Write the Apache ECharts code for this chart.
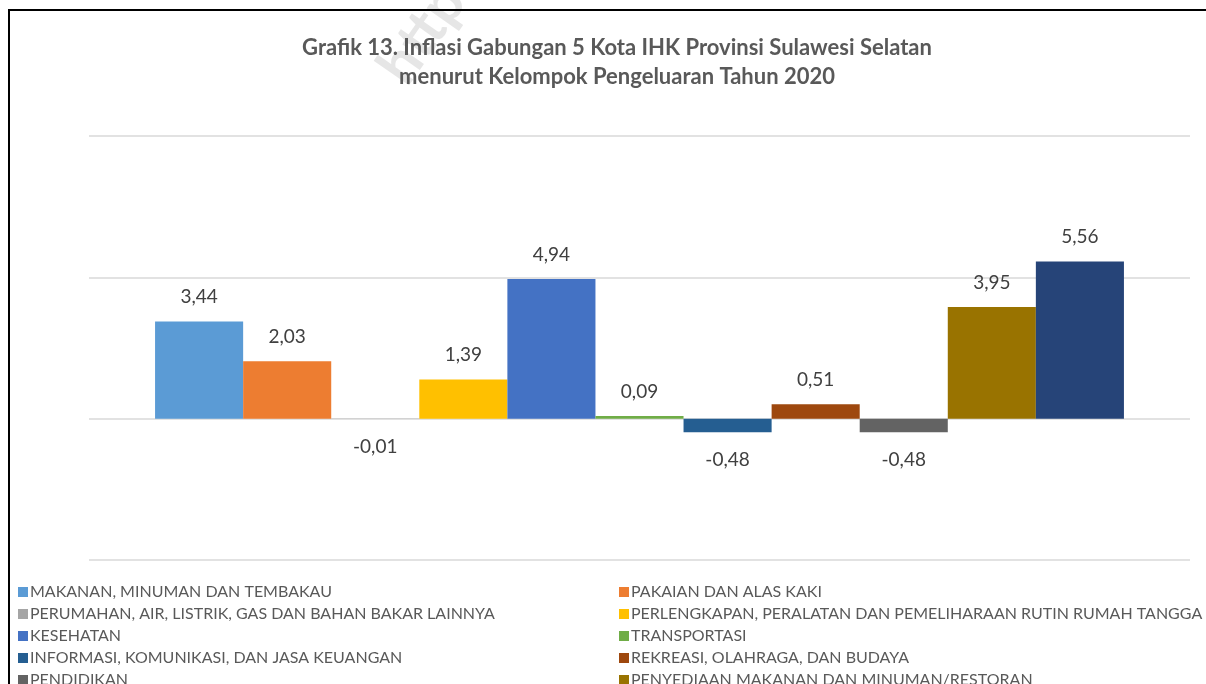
<!DOCTYPE html>
<html><head><meta charset="utf-8">
<script src="https://cdn.jsdelivr.net/npm/echarts@6/dist/echarts.min.js"></script>
<style>html,body{margin:0;padding:0;background:#fff}#c{width:1206px;height:684px}</style>
</head><body><div id="c"></div>
<script>
const titleLines = ['Grafik 13. Inflasi Gabungan 5 Kota IHK Provinsi Sulawesi Selatan', 'menurut Kelompok Pengeluaran Tahun 2020'];
const seriesNames = [
  'MAKANAN, MINUMAN DAN TEMBAKAU',
  'PAKAIAN DAN ALAS KAKI',
  'PERUMAHAN, AIR, LISTRIK, GAS DAN BAHAN BAKAR LAINNYA',
  'PERLENGKAPAN, PERALATAN DAN PEMELIHARAAN RUTIN RUMAH TANGGA',
  'KESEHATAN',
  'TRANSPORTASI',
  'INFORMASI, KOMUNIKASI, DAN JASA KEUANGAN',
  'REKREASI, OLAHRAGA, DAN BUDAYA',
  'PENDIDIKAN',
  'PENYEDIAAN MAKANAN DAN MINUMAN/RESTORAN',
  'PERAWATAN PRIBADI DAN JASA LAINNYA'
];
const values = [3.44, 2.03, -0.01, 1.39, 4.94, 0.09, -0.48, 0.51, -0.48, 3.95, 5.56];
const colors = ['#5B9BD5','#ED7D31','#A5A5A5','#FFC000','#4472C4','#70AD47','#255E91','#9E480E','#636363','#997300','#264478'];
const categories = [''];

const font = 'Lato, "Open Sans", sans-serif';
const series = seriesNames.map((n, i) => ({
  name: n,
  type: 'bar',
  data: [values[i]],
  barGap: '0%',
  barCategoryGap: '12%',
  itemStyle: { color: colors[i] },
  label: {
    show: true,
    position: values[i] < 0 ? 'bottom' : 'top',
    distance: values[i] < 0 ? 18 : 15,
    color: '#404040',
    fontSize: 19,
    fontFamily: font,
    formatter: p => p.value.toFixed(2).replace('.', ',')
  }
}));

const leftNames = seriesNames.filter((_, i) => i % 2 === 0);
const rightNames = seriesNames.filter((_, i) => i % 2 === 1);
const legendCommon = {
  orient: 'vertical',
  top: 581,
  height: 400,
  itemWidth: 10,
  itemHeight: 10,
  itemGap: 0,
  icon: 'rect',
  textStyle: { color: '#595959', fontSize: 16, fontFamily: font, lineHeight: 22, padding: [0,0,0,-3] },
  padding: 0
};

const chart = echarts.init(document.getElementById('c'));
chart.setOption({
  animation: false,
  color: colors,
  title: {
    text: titleLines.join('\n'),
    left: 612, textAlign: 'center', top: 28,
    textStyle: { color: '#595959', fontSize: 22, fontWeight: 'bold', fontFamily: font, lineHeight: 29 }
  },
  legend: [
    Object.assign({}, legendCommon, { left: 18, data: leftNames }),
    Object.assign({}, legendCommon, { left: 619, data: rightNames })
  ],
  grid: { left: 89, right: 16, top: 136, bottom: 124 },
  xAxis: {
    type: 'category', data: categories,
    axisLine: { show: false }, axisTick: { show: false }, axisLabel: { show: false }
  },
  yAxis: {
    type: 'value', min: -5, max: 10, interval: 5,
    axisLabel: { show: false }, axisLine: { show: false }, axisTick: { show: false },
    splitLine: { lineStyle: { color: '#D9D9D9', width: 1.5 } }
  },
  series: series,
  graphic: [
    { type: 'text', left: 368, top: -26, rotation: Math.PI * 55 / 180, z: -1,
      style: { text: 'http', fill: '#E6E6E6', font: 'bold 58px ' + font } },
    { type: 'rect', z: 100, shape: { x: 9, y: 10, width: 1300, height: 800 },
      style: { fill: 'none', stroke: '#000', lineWidth: 2 } }
  ]
});
</script></body></html>
